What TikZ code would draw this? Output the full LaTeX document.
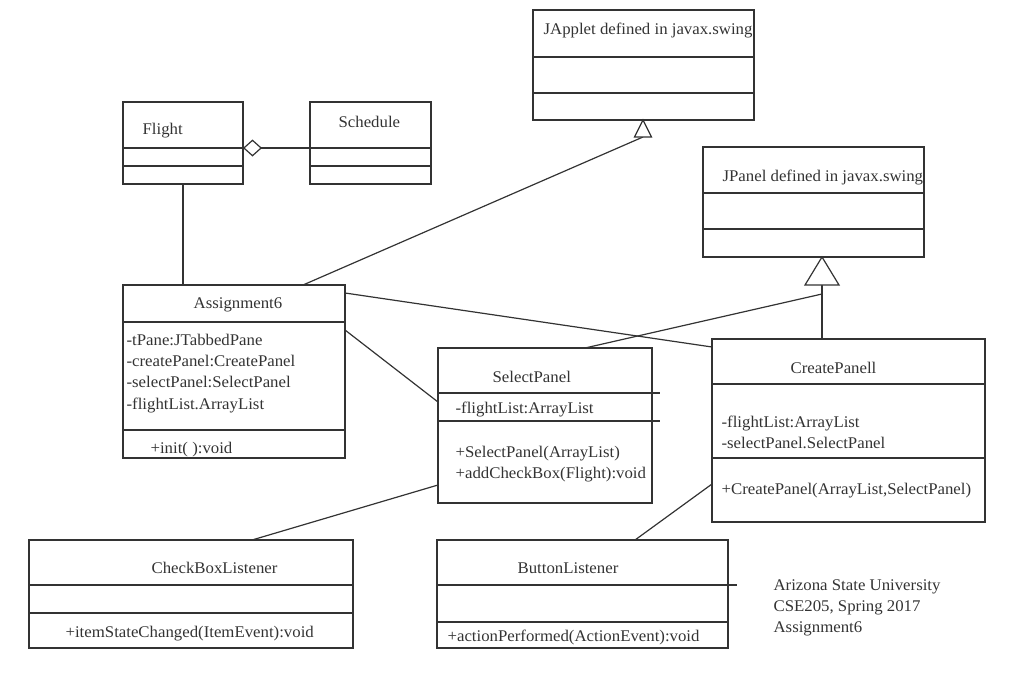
\documentclass[tikz,border=0pt]{standalone}
\usepackage{fontspec}
\setmainfont[FakeStretch=1.03]{Liberation Serif}
\usetikzlibrary{arrows.meta}
\definecolor{umlgray}{HTML}{333333}
\begin{document}
\begin{tikzpicture}[x=1pt,y=-1pt,line width=1.2pt,
    cls/.style={draw=umlgray,anchor=north west,inner sep=0pt,outer sep=0pt},
    txt/.style={anchor=base west,inner sep=0pt,text=umlgray,font=\fontsize{16.3}{19}\selectfont},
    ctxt/.style={txt,anchor=base},
    link/.style={draw=umlgray},
    gen/.style={draw=umlgray,fill=white}]
\useasboundingbox (0,0) rectangle (1024,674);

% class boxes
\node[cls,minimum width=221,minimum height=110] (japplet) at (533,10) {};
\draw[link] (japplet.west |- 0,57) -- (japplet.east |- 0,57)
            (japplet.west |- 0,93) -- (japplet.east |- 0,93);
\node[txt] (japplettitle) at (543,35) {JApplet defined in javax.swing};

\node[cls,minimum width=120,minimum height=82] (flight) at (123,102) {};
\draw[link] (flight.west |- 0,148) -- (flight.east |- 0,148)
            (flight.west |- 0,166) -- (flight.east |- 0,166);
\node[txt] (flighttitle) at (142,135) {Flight};

\node[cls,minimum width=121,minimum height=82] (schedule) at (310,102) {};
\draw[link] (schedule.west |- 0,148) -- (schedule.east |- 0,148)
            (schedule.west |- 0,166) -- (schedule.east |- 0,166);
\node[txt] (scheduletitle) at (338,127) {Schedule};

\node[cls,minimum width=221,minimum height=110] (jpanel) at (703,147) {};
\draw[link] (jpanel.west |- 0,193) -- (jpanel.east |- 0,193)
            (jpanel.west |- 0,229) -- (jpanel.east |- 0,229);
\node[txt] (jpaneltitle) at (722,181) {JPanel defined in javax.swing};

\node[cls,minimum width=222,minimum height=173] (asg) at (123,285) {};
\draw[link] (asg.west |- 0,322) -- (asg.east |- 0,322)
            (asg.west |- 0,430) -- (asg.east |- 0,430);
\node[ctxt] (asgtitle) at (238,308) {Assignment6};
\node[txt] (asga1) at (126,345) {-tPane:JTabbedPane};
\node[txt] (asga2) at (126,366) {-createPanel:CreatePanel};
\node[txt] (asga3) at (126,387) {-selectPanel:SelectPanel};
\node[txt] (asga4) at (126,409) {-flightList.ArrayList};
\node[txt] (asgm1) at (150,453) {+init( ):void};

\node[cls,minimum width=214,minimum height=155] (selectp) at (438,348) {};
\draw[link] (selectp.west |- 0,393) -- ([xshift=8]selectp.east |- 0,393)
            (selectp.west |- 0,421) -- ([xshift=8]selectp.east |- 0,421);
\node[txt] (selectptitle) at (492,382) {SelectPanel};
\node[txt] (selectpa1) at (455,413) {-flightList:ArrayList};
\node[txt] (selectpm1) at (455,457) {+SelectPanel(ArrayList)};
\node[txt] (selectpm2) at (455,478) {+addCheckBox(Flight):void};

\node[cls,minimum width=273,minimum height=183] (createp) at (712,339) {};
\draw[link] (createp.west |- 0,384) -- (createp.east |- 0,384)
            (createp.west |- 0,458) -- (createp.east |- 0,458);
\node[txt] (createptitle) at (790,373) {CreatePanell};
\node[txt] (createpa1) at (721,427) {-flightList:ArrayList};
\node[txt] (createpa2) at (721,448) {-selectPanel.SelectPanel};
\node[txt] (createpm1) at (721,494) {+CreatePanel(ArrayList,SelectPanel)};

\node[cls,minimum width=324,minimum height=108] (checkbox) at (29,540) {};
\draw[link] (checkbox.west |- 0,585) -- (checkbox.east |- 0,585)
            (checkbox.west |- 0,613) -- (checkbox.east |- 0,613);
\node[txt] (checkboxtitle) at (151,573) {CheckBoxListener};
\node[txt] (checkboxm1) at (65,637) {+itemStateChanged(ItemEvent):void};

\node[cls,minimum width=291,minimum height=108] (button) at (437,540) {};
\draw[link] (button.west |- 0,585) -- ([xshift=9]button.east |- 0,585)
            (button.west |- 0,622) -- (button.east |- 0,622);
\node[txt] (buttontitle) at (517,573) {ButtonListener};
\node[txt] (buttonm1) at (447,641) {+actionPerformed(ActionEvent):void};

% note
\node[txt] (note1) at (773,590) {Arizona State University};
\node[txt] (note2) at (773,611) {CSE205, Spring 2017};
\node[txt] (note3) at (773,632) {Assignment6};

% relations
\draw[link,-{Diamond[open,fill=white,length=19pt,width=17pt]}]
  (schedule.west |- 0,148) -- (flight.east |- 0,148);
\draw[link] (flight.south) -- (flight.south |- asg.north);

\coordinate (apltip) at (643,120);
\coordinate (aplbase) at (643,137);
\draw[link] (asg.north -| 303,0) -- (aplbase);
\draw[gen] (apltip) -- ++(-8.5,17) -- ++(17,0) -- cycle;

\coordinate (pnltip) at (822,257);
\coordinate (pnlbase) at (822,285);
\coordinate (pnljoin) at (822,294);
\draw[link] (pnlbase) -- (createp.north -| pnlbase);
\draw[link] (selectp.north -| 585,0) -- (pnljoin);
\draw[gen] (pnltip) -- ++(-17,28) -- ++(34,0) -- cycle;

\draw[link] (asg.east |- 0,293) -- (createp.west |- 0,347);
\draw[link] (asg.east |- 0,330) -- (selectp.west |- 0,402);
\draw[link] (selectp.west |- 0,485) -- (checkbox.north -| 252,0);
\draw[link] (createp.west |- 0,484) -- (button.north -| 635,0);
\end{tikzpicture}
\end{document}
